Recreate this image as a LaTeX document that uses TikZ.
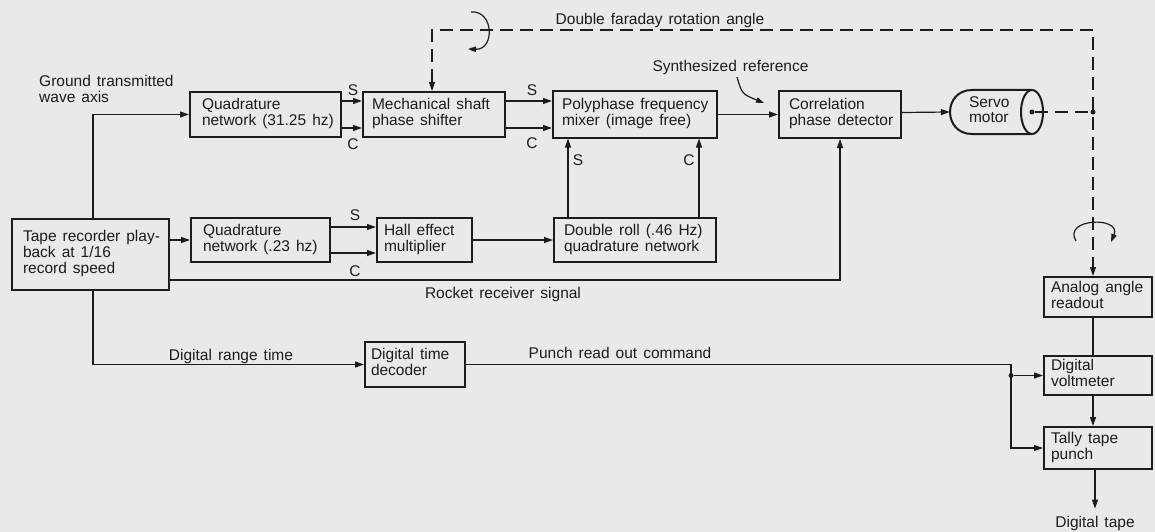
\documentclass[tikz,border=0pt]{standalone}
\usepackage{fontspec}
\setmainfont[WordSpace=1.4]{Liberation Sans}
\usetikzlibrary{arrows.meta}
\definecolor{bg}{RGB}{234,233,230}
\definecolor{ink}{RGB}{28,28,28}
\newcommand\bx[3]{\makebox[#1pt][l]{\hspace*{#2pt}\begin{tabular}{@{}l@{}}#3\end{tabular}}}
\tikzset{
  blk/.style={draw=ink, line width=2pt, inner sep=0pt},
  con/.style={draw=ink, line width=1.2pt},
  tip/.style={-{Triangle[length=9pt,width=6pt]}},
  arr/.style={con, tip},
  dsh/.style={draw=ink, line width=1.2pt, dash pattern=on 13pt off 7pt},
  lbl/.style={text=ink, inner sep=0pt, align=left},
  dot/.style={circle, fill=ink, inner sep=0pt, minimum size=5pt},
}
\begin{document}
\begin{tikzpicture}[x=1pt,y=-1pt, font=\fontsize{15.5}{15.5}\selectfont, text=ink]
\fill[bg] (0,0) rectangle (1155,532);
\useasboundingbox (0,0) rectangle (1155,532);

% blocks
\node[blk, minimum height=71pt] (tape) at (90.5,254.5) {\bx{157}{11}{Tape recorder play-\\back at 1/16\\record speed}};
\node[blk, minimum height=44pt] (q2) at (260.5,240) {\bx{139}{12}{Quadrature\\network (.23 hz)}};
\node[blk, minimum height=44pt] (hall) at (424.5,240) {\bx{95}{7}{Hall effect\\multiplier}};
\node[blk, minimum height=44pt] (droll) at (635,240) {\bx{162}{10}{Double roll (.46 Hz)\\quadrature network}};
\node[blk, minimum height=45pt] (q1) at (265.5,114.5) {\bx{151}{12}{Quadrature\\network (31.25 hz)}};
\node[blk, minimum height=45pt] (mech) at (434,114.5) {\bx{142}{9}{Mechanical shaft\\phase shifter}};
\node[blk, minimum height=46pt] (poly) at (635,114.5) {\bx{164}{9}{Polyphase frequency\\mixer (image free)}};
\node[blk, minimum height=47pt] (corr) at (840,114.5) {\bx{122}{10}{Correlation\\phase detector}};
\node[inner sep=0pt, minimum height=44pt] (servo) at (996.5,112) {\bx{93}{19}{Servo\\motor}};
\node[blk, minimum height=40pt] (analog) at (1098,297) {\bx{108}{7}{Analog angle\\readout}};
\node[blk, minimum height=39pt] (dvm) at (1098,375.5) {\bx{108}{7}{Digital\\voltmeter}};
\node[blk, minimum height=42pt] (tally) at (1098,448) {\bx{108}{7}{Tally tape\\punch}};
\node[blk, minimum height=45pt] (dtd) at (415,364.5) {\bx{100}{6}{Digital time\\decoder}};

% servo motor outline
\draw[ink, line width=2pt] (1032,90) -- (972,90) .. controls (942.7,90) and (942.7,134) .. (972,134) -- (1032,134);
\draw[ink, line width=2pt] (1032,112) ellipse [x radius=11pt, y radius=22pt];

% free labels
\node[lbl, anchor=west] (gtw) at (39,89) {Ground transmitted\\wave axis};
\node[lbl] (dfr) at (660,20) {Double faraday rotation angle};
\node[lbl] (synref) at (730.5,67) {Synthesized reference};
\node[lbl] (rrs) at (503,294) {Rocket receiver signal};
\node[lbl] (drt) at (231,356) {Digital range time};
\node[lbl] (proc) at (620,353) {Punch read out command};
\node[lbl] (dtape) at (1095,523) {Digital tape};
\node[lbl] (s1) at (353,90) {S};
\node[lbl] (c1) at (353,144) {C};
\node[lbl] (s2) at (532,90) {S};
\node[lbl] (c2) at (532,143) {C};
\node[lbl] (s3) at (355,215) {S};
\node[lbl] (c3) at (355,271) {C};
\node[lbl] (s4) at (578,160) {S};
\node[lbl] (c4) at (689,160) {C};

% connectors, top row
\draw[arr] ([xshift=2.5pt]tape.north) |- (q1.west);
\draw[arr] ([yshift=13.5pt]q1.east) -- ([yshift=13.5pt]mech.west);
\draw[arr] ([yshift=-13.5pt]q1.east) -- ([yshift=-13.5pt]mech.west);
\draw[arr] ([yshift=13.5pt]mech.east) -- ([yshift=13.5pt]poly.west);
\draw[arr] ([yshift=-13.5pt]mech.east) -- ([yshift=-13.5pt]poly.west);
\draw[arr] (poly.east) -- (corr.west);
\draw[arr] ([yshift=2pt]corr.east) -- (servo.west);

% lower row
\draw[arr] (tape.east |- q2.west) -- (q2.west);
\draw[arr] ([yshift=13pt]q2.east) -- ([yshift=13pt]hall.west);
\draw[arr] ([yshift=-13pt]q2.east) -- ([yshift=-13pt]hall.west);
\draw[arr] (hall.east) -- (droll.west);
\draw[arr] ([xshift=-67pt]droll.north) -- ([xshift=-67pt]poly.south);
\draw[arr] ([xshift=64pt]droll.north) -- ([xshift=64pt]poly.south);
\draw[arr] ([yshift=-25.5pt]tape.east) -| (corr.south);

% digital path
\draw[arr] ([xshift=2.5pt]tape.south) |- (dtd.west);
\coordinate (pc) at (1011,364.5);
\draw[arr] (dtd.east) -- (pc) |- (tally.west);
\node[dot] (jd) at (pc |- dvm.west) {};
\draw[arr] (jd) -- (dvm.west);
\draw[con] ([xshift=-5pt]analog.south) -- ([xshift=-5pt]dvm.north);
\draw[arr] ([xshift=-5pt]dvm.south) -- ([xshift=-5pt]tally.north);
\draw[arr] ([xshift=-3pt]tally.south) -- ([yshift=7pt]dtape.north);

% mechanical (dashed) shaft
\coordinate (tl) at (432,30);
\coordinate (tr) at (1093,30);
\draw[dsh, {Triangle[length=9pt,width=6pt]}-{Triangle[length=9pt,width=6pt]}] (tl |- mech.north) -- (tl) -- (tr) -- (tr |- analog.north);
\node[dot] (sd) at (1032,112) {};
\node[dot] (jd2) at (1093,112) {};
\draw[dsh] (sd) -- (jd2);

% rotation indicators
\draw[con, -{Triangle[length=8pt,width=5.5pt]}] (471,12) .. controls (494,10) and (495,50) .. (468,49);
\draw[con, -{Triangle[length=8pt,width=5.5pt]}] (1076,241) .. controls (1062,218) and (1122,216) .. (1111,242);
\draw[con, -{Triangle[length=8pt,width=5.5pt]}] (737,77) .. controls (742,94) .. (764,103);
\end{tikzpicture}
\end{document}
